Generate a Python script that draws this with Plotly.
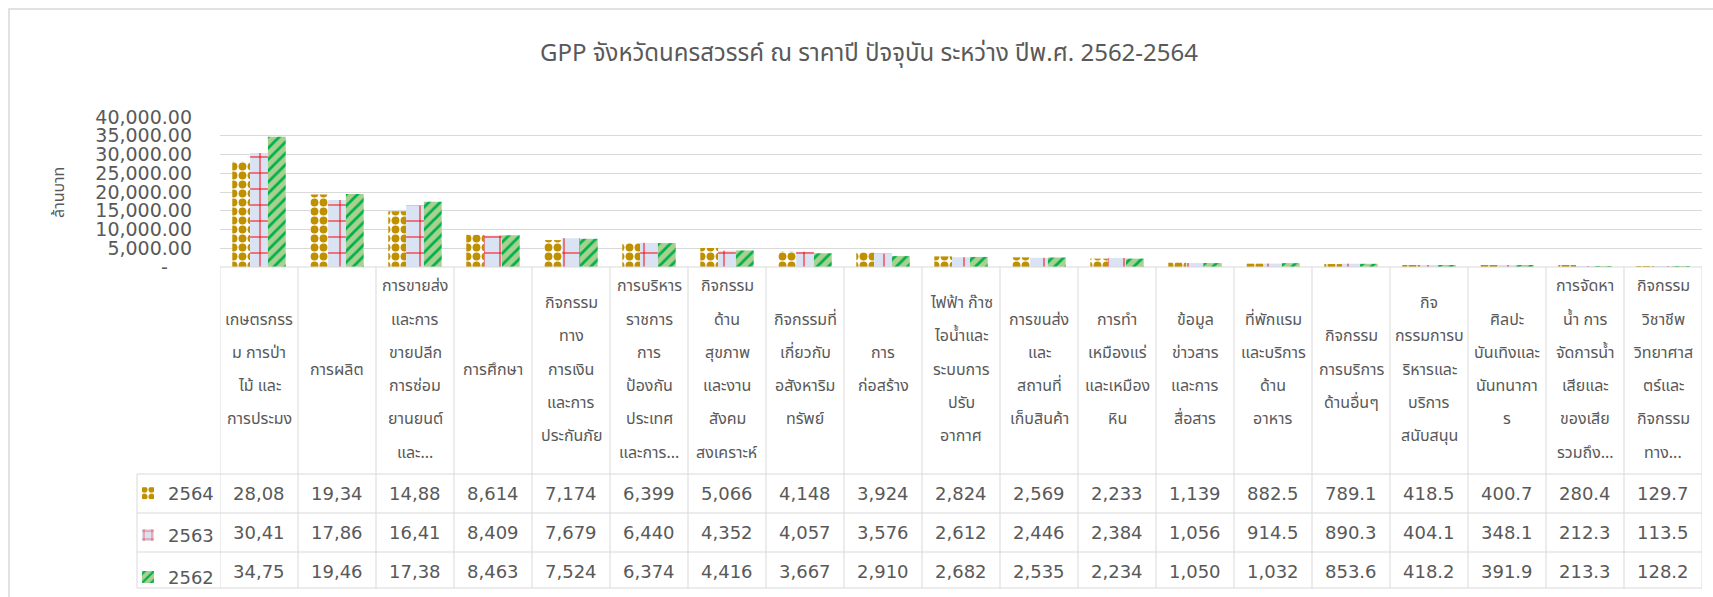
import plotly.graph_objects as go

categories = [
    "เกษตรกรร<br>ม การป่า<br>ไม้ และ<br>การประมง",
    "การผลิต",
    "การขายส่ง<br>และการ<br>ขายปลีก<br>การซ่อม<br>ยานยนต์<br>และ...",
    "การศึกษา",
    "กิจกรรม<br>ทาง<br>การเงิน<br>และการ<br>ประกันภัย",
    "การบริหาร<br>ราชการ<br>การ<br>ป้องกัน<br>ประเทศ<br>และการ...",
    "กิจกรรม<br>ด้าน<br>สุขภาพ<br>และงาน<br>สังคม<br>สงเคราะห์",
    "กิจกรรมที่<br>เกี่ยวกับ<br>อสังหาริม<br>ทรัพย์",
    "การ<br>ก่อสร้าง",
    "ไฟฟ้า ก๊าซ<br>ไอน้ำและ<br>ระบบการ<br>ปรับ<br>อากาศ",
    "การขนส่ง<br>และ<br>สถานที่<br>เก็บสินค้า",
    "การทำ<br>เหมืองแร่<br>และเหมือง<br>หิน",
    "ข้อมูล<br>ข่าวสาร<br>และการ<br>สื่อสาร",
    "ที่พักแรม<br>และบริการ<br>ด้าน<br>อาหาร",
    "กิจกรรม<br>การบริการ<br>ด้านอื่นๆ",
    "กิจ<br>กรรมการบ<br>ริหารและ<br>บริการ<br>สนับสนุน",
    "ศิลปะ<br>บันเทิงและ<br>นันทนากา<br>ร",
    "การจัดหา<br>น้ำ การ<br>จัดการน้ำ<br>เสียและ<br>ของเสีย<br>รวมถึง...",
    "กิจกรรม<br>วิชาชีพ<br>วิทยาศาส<br>ตร์และ<br>กิจกรรม<br>ทาง...",
]

series_names = ["2564", "2563", "2562"]
values_2564 = [28085, 19345, 14885, 8614, 7174, 6399, 5066, 4148, 3924, 2824,
               2569, 2233, 1139, 882.5, 789.1, 418.5, 400.7, 280.4, 129.7]
values_2563 = [30415, 17865, 16415, 8409, 7679, 6440, 4352, 4057, 3576, 2612,
               2446, 2384, 1056, 914.5, 890.3, 404.1, 348.1, 212.3, 113.5]
values_2562 = [34755, 19465, 17385, 8463, 7524, 6374, 4416, 3667, 2910, 2682,
               2535, 2234, 1050, 1032, 853.6, 418.2, 391.9, 213.3, 128.2]

y_tickvals = [0, 5000, 10000, 15000, 20000, 25000, 30000, 35000, 40000]
y_ticktext = ["-\u00a0\u00a0\u00a0\u00a0", "5,000.00", "10,000.00", "15,000.00", "20,000.00",
              "25,000.00", "30,000.00", "35,000.00", "40,000.00"]

title_text = "GPP จังหวัดนครสวรรค์ ณ ราคาปี ปัจจุบัน ระหว่าง ปีพ.ศ. 2562-2564"
y_title = "ล้านบาท"

W, H = 1713, 597
L, R, T, B = 220, 11, 117, 330
PW = W - L - R
PH = H - T - B
GREY = "#595959"
GRID = "#d9d9d9"
NUMFONT = "DejaVu Sans"
THAIFONT = "Tahoma, 'Noto Sans Thai', 'Leelawadee UI', sans-serif"

xs = list(range(len(categories)))

styles = [
    dict(bgcolor="#ffffff", fgcolor="#bf9000", shape=".", size=9, solidity=0.6),
    dict(bgcolor="#dae3f3", fgcolor="#ff0000", shape="+", size=16, solidity=0.12),
    dict(bgcolor="#a9d18e", fgcolor="#00b050", shape="/", size=8, solidity=0.35),
]
all_vals = [values_2564, values_2563, values_2562]

fig = go.Figure()
for name, vals, st in zip(series_names, all_vals, styles):
    fig.add_trace(go.Bar(
        x=xs, y=vals, name=name, legendgroup=name,
        marker=dict(color=st["bgcolor"], line=dict(width=0),
                    pattern=dict(fillmode="replace", **st)),
    ))


def py(pix):
    """pixel row -> paper y"""
    return (H - B - pix) / PH


def px(pix):
    return (pix - L) / PW


shapes = []
# outer chart frame
shapes.append(dict(type="rect", xref="paper", yref="paper",
                   x0=px(9), x1=px(1730), y0=py(9), y1=py(620),
                   line=dict(color=GRID, width=1.5), fillcolor="rgba(0,0,0,0)", layer="below"))
# table horizontal lines
for yy, x0 in [(267, L), (474, 137), (513, 137), (552, 137), (588, 137)]:
    shapes.append(dict(type="line", xref="paper", yref="paper",
                       x0=px(x0), x1=1, y0=py(yy), y1=py(yy),
                       line=dict(color=GRID, width=1)))
# column lines
for k in range(len(categories) + 1):
    shapes.append(dict(type="line", xref="x", yref="paper",
                       x0=k - 0.5, x1=k - 0.5, y0=py(267), y1=py(588),
                       line=dict(color=GRID, width=1)))
shapes.append(dict(type="line", xref="paper", yref="paper",
                   x0=px(137), x1=px(137), y0=py(474), y1=py(588),
                   line=dict(color=GRID, width=1)))

annotations = []
# header texts, line by line
LINE = 33.3
HCENTER = 369.5
for i, cat in enumerate(categories):
    lines = cat.split("<br>")
    n = len(lines)
    for j, ln in enumerate(lines):
        yc = HCENTER + (j - (n - 1) / 2) * LINE
        annotations.append(dict(x=i, xref="x", y=0, yref="paper", yshift=-(yc - (H - B)),
                                text=ln, showarrow=False, xanchor="center", yanchor="middle",
                                font=dict(family=THAIFONT, size=16, color=GREY)))


def fmt(v):
    if v >= 1000:
        return f"{v:,.0f}"[:5]
    return f"{v:.1f}"


row_centers = [493.5, 532.5, 571]
for vals, yc in zip(all_vals, row_centers):
    for i, v in enumerate(vals):
        annotations.append(dict(x=i, xref="x", y=0, yref="paper", yshift=-(yc - (H - B)),
                                text=fmt(v), showarrow=False, xanchor="center", yanchor="middle",
                                font=dict(family=NUMFONT, size=18, color=GREY)))

# y-axis title
annotations.append(dict(x=0, xref="paper", xshift=59 - L, y=py(193), yref="paper",
                        text=y_title, textangle=-90, showarrow=False,
                        xanchor="center", yanchor="middle",
                        font=dict(family=THAIFONT, size=16, color=GREY)))

fig.update_layout(
    width=W, height=H,
    margin=dict(l=L, r=R, t=T, b=B, autoexpand=False),
    paper_bgcolor="white", plot_bgcolor="white",
    barmode="group", bargap=0.315, bargroupgap=0,
    title=dict(text=title_text, x=869 / W, xref="container", xanchor="center",
               y=1 - 53 / H, yref="container", yanchor="middle",
               font=dict(family=THAIFONT, size=24, color=GREY)),
    xaxis=dict(range=[-0.5, len(categories) - 0.5], showticklabels=False, showgrid=False,
               zeroline=False, showline=False, ticks=""),
    yaxis=dict(range=[0, 40000], tickvals=y_tickvals, ticktext=y_ticktext,
               showgrid=True, gridcolor=GRID, gridwidth=1, zeroline=False, showline=False,
               ticks="", ticklabelstandoff=27,
               tickfont=dict(family=NUMFONT, size=19, color=GREY)),
    showlegend=True,
    legend=dict(x=px(128), xanchor="left", y=py(475), yanchor="top",
                tracegroupgap=15.5, traceorder="grouped", bgcolor="rgba(0,0,0,0)",
                itemwidth=30, font=dict(family=NUMFONT, size=18, color=GREY)),
    shapes=shapes,
    annotations=annotations,
)

fig.write_html("out.html", config={"displayModeBar": False},
               post_script="document.body.style.margin='0';")
